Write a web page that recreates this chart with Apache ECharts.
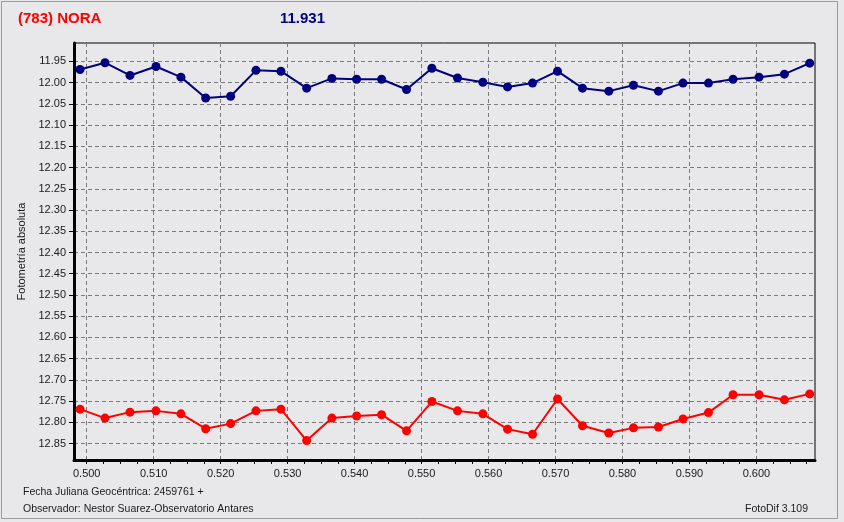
<!DOCTYPE html>
<html>
<head>
<meta charset="utf-8">
<script src="https://cdn.jsdelivr.net/npm/echarts@6/dist/echarts.min.js"></script>
<style>
html,body{margin:0;padding:0;background:#e8e8ea;}
#chart{width:844px;height:522px;}
</style>
</head>
<body>
<div id="chart"></div>
<script>
// Julian date fraction (2459761 +)
const jdFrac = [0.49900,0.50273,0.50646,0.51034,0.51407,0.51776,0.52149,0.52527,0.52900,0.53284,
                0.53661,0.54030,0.54403,0.54776,0.55154,0.55537,0.55915,0.56284,0.56657,0.57030,
                0.57403,0.57796,0.58164,0.58537,0.58904,0.59284,0.59651,0.60039,0.60418,0.60796];
// Absolute photometry (blue: object, red: comparison)
const blueMag = [11.969,11.953,11.983,11.962,11.987,12.036,12.032,11.971,11.973,12.013,
                 11.990,11.992,11.992,12.016,11.966,11.989,11.999,12.010,12.001,11.973,
                 12.013,12.020,12.006,12.020,12.001,12.001,11.992,11.987,11.980,11.954];
const redMag  = [12.769,12.790,12.776,12.773,12.780,12.815,12.803,12.773,12.769,12.843,
                 12.790,12.785,12.782,12.820,12.751,12.773,12.780,12.816,12.828,12.745,
                 12.808,12.825,12.813,12.811,12.792,12.777,12.735,12.735,12.747,12.733];
// tick labels
const xLabels = [0.500,0.510,0.520,0.530,0.540,0.550,0.560,0.570,0.580,0.590,0.600];
const xMinorTicks = [0.5000,0.5025,0.5050,0.5075,0.5100,0.5125,0.5150,0.5175,0.5200,0.5225,0.5250,0.5275,
                     0.5300,0.5325,0.5350,0.5375,0.5400,0.5425,0.5450,0.5475,0.5500,0.5525,0.5550,0.5575,
                     0.5600,0.5625,0.5650,0.5675,0.5700,0.5725,0.5750,0.5775,0.5800,0.5825,0.5850,0.5875,
                     0.5900,0.5925,0.5950,0.5975,0.6000,0.6025,0.6050,0.6075];
const yLabels = [11.95,12.00,12.05,12.10,12.15,12.20,12.25,12.30,12.35,12.40,12.45,12.50,
                 12.55,12.60,12.65,12.70,12.75,12.80,12.85];
const yMinorTicks = [11.91,11.92,11.93,11.94,11.95,11.96,11.97,11.98,11.99,12.00,12.01,12.02,12.03,12.04,12.05,
  12.06,12.07,12.08,12.09,12.10,12.11,12.12,12.13,12.14,12.15,12.16,12.17,12.18,12.19,12.20,12.21,12.22,12.23,
  12.24,12.25,12.26,12.27,12.28,12.29,12.30,12.31,12.32,12.33,12.34,12.35,12.36,12.37,12.38,12.39,12.40,12.41,
  12.42,12.43,12.44,12.45,12.46,12.47,12.48,12.49,12.50,12.51,12.52,12.53,12.54,12.55,12.56,12.57,12.58,12.59,
  12.60,12.61,12.62,12.63,12.64,12.65,12.66,12.67,12.68,12.69,12.70,12.71,12.72,12.73,12.74,12.75,12.76,12.77,
  12.78,12.79,12.80,12.81,12.82,12.83,12.84,12.85,12.86,12.87,12.88];

const X_MIN = 0.49810, X_MAX = 0.60875;
const Y_MIN = 11.9066, Y_MAX = 12.8887;
const FONT = '"Liberation Sans", Arial, sans-serif';
const TXT = '#1a1a1a';

const chart = echarts.init(document.getElementById('chart'), null, {renderer: 'canvas'});
chart.setOption({
  backgroundColor: '#e8e8ea',
  animation: false,
  grid: {left: 74, right: 29, top: 43, bottom: 62, show: true, borderColor: '#000', borderWidth: 1, backgroundColor: 'transparent'},
  xAxis: [
    {type: 'value', min: X_MIN, max: X_MAX, position: 'bottom',
     axisLine: {show: true, onZero: false, lineStyle: {color: '#000', width: 3}},
     axisTick: {show: true, customValues: xMinorTicks, length: 4, lineStyle: {color: '#000', width: 1}},
     axisLabel: {show: false}, splitLine: {show: false}},
    {type: 'value', min: X_MIN, max: X_MAX, position: 'bottom',
     axisLine: {show: false, onZero: false},
     axisTick: {show: false, customValues: xLabels},
     axisLabel: {show: true, customValues: xLabels, margin: 8, color: TXT, fontFamily: FONT, fontSize: 11,
                 formatter: v => v.toFixed(3)},
     splitLine: {show: true, lineStyle: {color: '#7a7a7a', type: [4, 3], width: 1}}}
  ],
  yAxis: [
    {type: 'value', inverse: true, min: Y_MIN, max: Y_MAX, position: 'left',
     name: 'Fotometría absoluta', nameLocation: 'middle', nameGap: 46,
     nameTextStyle: {color: TXT, fontFamily: FONT, fontSize: 11},
     axisLine: {show: true, onZero: false, lineStyle: {color: '#000', width: 3}},
     axisTick: {show: true, customValues: yLabels, length: 5, lineStyle: {color: '#000'}},
     axisLabel: {show: true, customValues: yLabels, margin: 8, color: TXT, fontFamily: FONT, fontSize: 11,
                 formatter: v => v.toFixed(2)},
     splitLine: {show: true, lineStyle: {color: '#7a7a7a', type: [4, 3], width: 1}}},
    {type: 'value', inverse: true, min: Y_MIN, max: Y_MAX, position: 'left',
     axisLine: {show: false, onZero: false},
     axisTick: {show: true, inside: true, customValues: yMinorTicks, length: 2, lineStyle: {color: '#000'}},
     axisLabel: {show: false}, splitLine: {show: false}}
  ],
  series: [
    {type: 'line', xAxisIndex: 0, yAxisIndex: 0, data: jdFrac.map((x, i) => [x, blueMag[i]]),
     symbol: 'circle', symbolSize: 9, showSymbol: true,
     itemStyle: {color: '#000080'}, lineStyle: {color: '#000080', width: 2}},
    {type: 'line', xAxisIndex: 0, yAxisIndex: 0, data: jdFrac.map((x, i) => [x, redMag[i]]),
     symbol: 'circle', symbolSize: 9, showSymbol: true,
     itemStyle: {color: '#ff0000'}, lineStyle: {color: '#ff0000', width: 2}}
  ],
  graphic: [
    {type: 'rect', shape: {x: 1.5, y: 1.5, width: 836, height: 517}, style: {fill: null, stroke: '#9a9a9a', lineWidth: 1}, silent: true},
    {type: 'text', left: 18, top: 11, style: {text: '(783) NORA', fill: '#ff0000', font: 'bold 15px ' + FONT}},
    {type: 'text', left: 280, top: 11, style: {text: '11.931', fill: '#000080', font: 'bold 15px ' + FONT}},
    {type: 'text', left: 23, top: 487, style: {text: 'Fecha Juliana Geocéntrica: 2459761 +', fill: TXT, font: '10.5px ' + FONT}},
    {type: 'text', left: 23, top: 504, style: {text: 'Observador: Nestor Suarez-Observatorio Antares', fill: TXT, font: '10.5px ' + FONT}},
    {type: 'text', right: 36, top: 504, style: {text: 'FotoDif 3.109', fill: TXT, font: '10.5px ' + FONT}}
  ]
});
</script>
</body>
</html>
